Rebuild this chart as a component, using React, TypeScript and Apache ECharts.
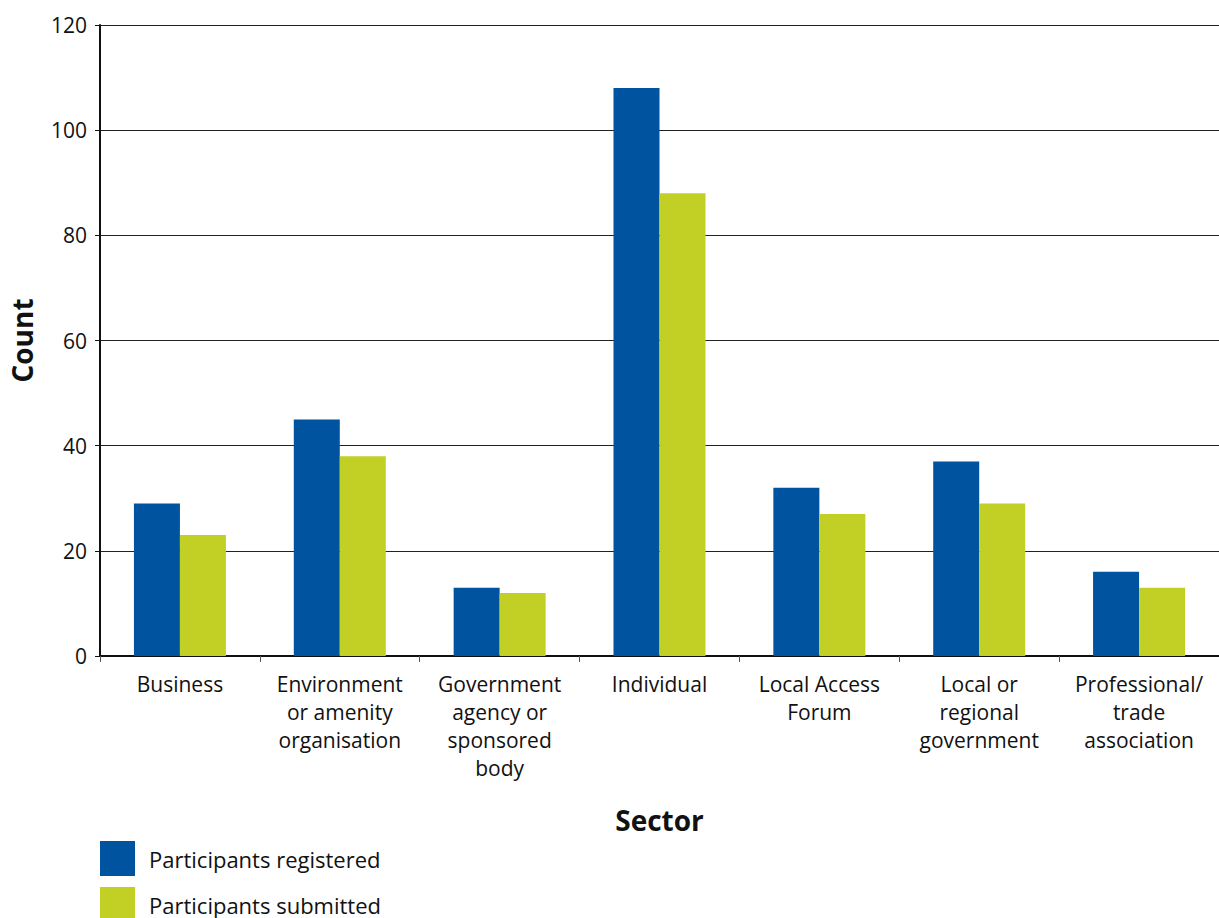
import React, { useEffect, useRef } from "react";
import * as echarts from "echarts";

const categories = [
  "Business",
  "Environment\nor amenity\norganisation",
  "Government\nagency or\nsponsored\nbody",
  "Individual",
  "Local Access\nForum",
  "Local or\nregional\ngovernment",
  "Professional/\ntrade\nassociation",
];
const seriesNames = ["Participants registered", "Participants submitted"];
const registered = [29, 45, 13, 108, 32, 37, 16];
const submitted = [23, 38, 12, 88, 27, 29, 13];
const yTicks = { min: 0, max: 120, interval: 20 };

const FONT = "'Open Sans', 'Noto Sans', sans-serif";

export default function App() {
  const ref = useRef<HTMLDivElement>(null);
  useEffect(() => {
    if (!ref.current) return;
    const chart = echarts.init(ref.current, undefined, { renderer: "svg" });
    const legendCommon = {
      orient: "vertical",
      left: 95,
      itemWidth: 35,
      itemHeight: 35,
      icon: "rect",
      textStyle: { fontSize: 22, color: "#111", fontFamily: FONT, padding: [0, 0, 0, 9] },
    };
    chart.setOption({
      animation: false,
      textStyle: { fontFamily: FONT },
      grid: { left: 98, top: 25, width: 1123, height: 631, containLabel: false },
      legend: [
        { ...legendCommon, top: 836, data: [seriesNames[0]] },
        { ...legendCommon, top: 882, data: [seriesNames[1]] },
      ],
      xAxis: {
        type: "category",
        data: categories,
        name: "Sector",
        nameLocation: "middle",
        nameGap: 150,
        nameTextStyle: { fontSize: 28, fontWeight: "bold", color: "#111", fontFamily: FONT },
        axisLine: { lineStyle: { color: "#111", width: 2 } },
        axisTick: { show: true, length: 6, lineStyle: { color: "#555", width: 1 } },
        axisLabel: { fontSize: 21, color: "#111", lineHeight: 28, margin: 14, interval: 0, fontFamily: FONT },
      },
      yAxis: {
        type: "value",
        min: yTicks.min,
        max: yTicks.max,
        interval: yTicks.interval,
        name: "Count",
        nameLocation: "middle",
        nameGap: 64,
        nameTextStyle: { fontSize: 28, fontWeight: "bold", color: "#111", fontFamily: FONT },
        axisLine: { show: true, lineStyle: { color: "#111", width: 2 } },
        axisTick: { show: true, length: 5, lineStyle: { color: "#111", width: 1 } },
        axisLabel: { fontSize: 21, color: "#111", margin: 13, fontFamily: FONT },
        splitLine: { show: true, lineStyle: { color: "#222", width: 1 } },
      },
      series: [
        {
          name: seriesNames[0],
          type: "bar",
          data: registered,
          barWidth: 46,
          barGap: "0%",
          itemStyle: { color: "#00539F" },
        },
        {
          name: seriesNames[1],
          type: "bar",
          data: submitted,
          barWidth: 46,
          barGap: "0%",
          itemStyle: { color: "#C2CF24" },
        },
      ],
    });
    return () => chart.dispose();
  }, []);
  return (
    <div
      ref={ref}
      style={{ position: "fixed", left: 0, top: 0, width: 1219, height: 918, background: "#fff" }}
    />
  );
}
